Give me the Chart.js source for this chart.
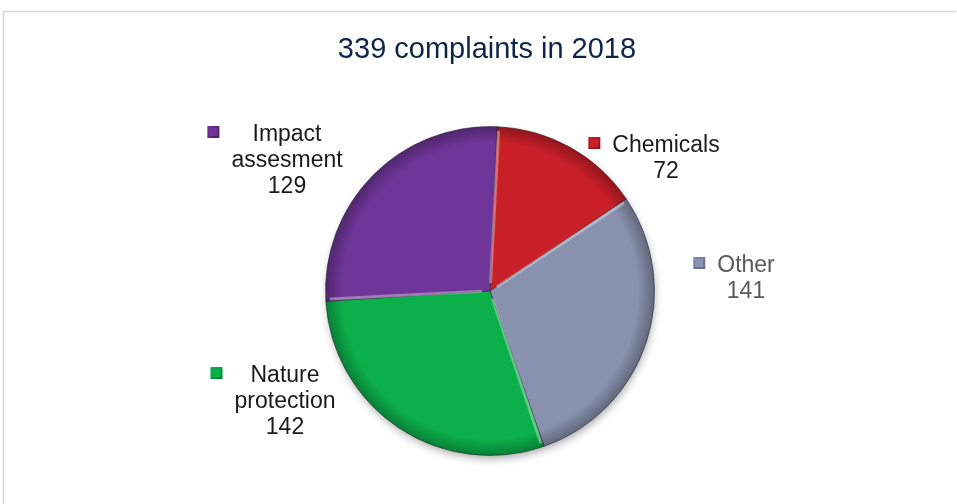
<!DOCTYPE html>
<html><head><meta charset="utf-8">
<script src="https://cdn.jsdelivr.net/npm/chart.js@4/dist/chart.umd.min.js"></script>
<style>html,body{margin:0;padding:0;background:#fff;overflow:hidden}#wrap{width:957px;height:504px;position:relative}</style>
</head><body><div id="wrap"><canvas id="c"></canvas></div>
<script>
const titleText = '339 complaints in 2018';
const categories = ['Chemicals', 'Other', 'Nature protection', 'Impact assesment'];
const labelLines = [['Chemicals'], ['Other'], ['Nature', 'protection'], ['Impact', 'assesment']];
const values = [72, 141, 142, 129];
const sliceColors = ['#C91F28', '#8891AD', '#0CB04A', '#6F3598'];
const rimColors = ['#8E1318', '#5E6682', '#06803A', '#4A2068'];
const labelColors = ['#1a1a1a', '#595959', '#1a1a1a', '#1a1a1a'];

const FONT = '"Liberation Sans", Arial, sans-serif';
// label anchor offsets from pie centre (text centre x, first baseline y)
const labelAnchors = [[176, -139], [256, -19], [-205, 91], [-203, -150]];

const framePlugin = {
  id: 'frame',
  beforeDraw(chart) {
    const ctx = chart.ctx;
    ctx.save();
    ctx.fillStyle = '#fff';
    ctx.fillRect(0, 0, chart.width, chart.height);
    ctx.strokeStyle = '#d6d6d6';
    ctx.lineWidth = 1.5;
    ctx.beginPath();
    ctx.moveTo(3.5, chart.height);
    ctx.lineTo(3.5, 11.5);
    ctx.lineTo(956, 11.5);
    ctx.stroke();
    ctx.fillStyle = '#0E2548';
    ctx.font = '29px ' + FONT;
    ctx.textAlign = 'center';
    ctx.textBaseline = 'alphabetic';
    ctx.fillText(titleText, 487, 58);
    ctx.restore();
  }
};

const shadePlugin = {
  id: 'shade',
  beforeDatasetsDraw(chart) {
    const a = chart.getDatasetMeta(0).data[0];
    const ctx = chart.ctx;
    ctx.save();
    ctx.shadowColor = 'rgba(0,0,0,0.35)';
    ctx.shadowBlur = 8;
    ctx.shadowOffsetY = 4;
    ctx.shadowOffsetX = 1;
    ctx.fillStyle = '#999';
    ctx.beginPath();
    ctx.arc(a.x, a.y, a.outerRadius - 1, 0, Math.PI * 2);
    ctx.fill();
    ctx.restore();
  },
  afterDatasetsDraw(chart) {
    const arcs = chart.getDatasetMeta(0).data;
    const ctx = chart.ctx;
    const a = arcs[0];
    ctx.save();
    const g = ctx.createRadialGradient(a.x, a.y, 0, a.x, a.y, a.outerRadius);
    g.addColorStop(0, 'rgba(0,0,0,0)');
    g.addColorStop(0.9, 'rgba(0,0,0,0)');
    g.addColorStop(1, 'rgba(0,0,0,0.28)');
    ctx.fillStyle = g;
    ctx.beginPath();
    ctx.arc(a.x, a.y, a.outerRadius, 0, Math.PI * 2);
    ctx.fill();
    // light bevel along slice start edges
    arcs.forEach((arc) => {
      const ang = arc.startAngle;
      ctx.strokeStyle = 'rgba(255,255,255,0.35)';
      ctx.lineWidth = 3;
      ctx.beginPath();
      ctx.moveTo(arc.x + Math.cos(ang + 0.03) * 8, arc.y + Math.sin(ang + 0.03) * 8);
      ctx.lineTo(arc.x + Math.cos(ang + 0.012) * (arc.outerRadius - 4), arc.y + Math.sin(ang + 0.012) * (arc.outerRadius - 4));
      ctx.stroke();
    });
    ctx.restore();
  }
};

const labelPlugin = {
  id: 'sliceLabels',
  afterDraw(chart) {
    const arcs = chart.getDatasetMeta(0).data;
    const cx = arcs[0].x, cy = arcs[0].y;
    const ctx = chart.ctx;
    ctx.save();
    ctx.font = '23px ' + FONT;
    ctx.textAlign = 'center';
    ctx.textBaseline = 'alphabetic';
    const lh = 26;
    labelLines.forEach((lines, i) => {
      const all = lines.concat([String(values[i])]);
      const x = cx + labelAnchors[i][0];
      const y = cy + labelAnchors[i][1];
      const w = Math.max(...all.map(t => ctx.measureText(t).width));
      ctx.fillStyle = labelColors[i];
      all.forEach((t, k) => ctx.fillText(t, x, y + k * lh));
      // legend key
      const mx = x - w / 2 - 18, my = y - 9, s = 12;
      const kg = ctx.createLinearGradient(mx - s / 2, my - s / 2, mx + s / 2, my + s / 2);
      kg.addColorStop(0, sliceColors[i]);
      kg.addColorStop(1, rimColors[i]);
      ctx.fillStyle = kg;
      ctx.fillRect(mx - s / 2, my - s / 2, s, s);
      ctx.fillStyle = sliceColors[i];
      ctx.fillRect(mx - s / 2 + 2, my - s / 2 + 2, s - 4, s - 4);
    });
    ctx.restore();
  }
};

new Chart(document.getElementById('c'), {
  type: 'pie',
  data: {
    labels: categories,
    datasets: [{
      data: values,
      backgroundColor: sliceColors,
      borderColor: 'rgba(50,40,60,0.55)',
      borderWidth: 1
    }]
  },
  options: {
    responsive: true,
    maintainAspectRatio: false,
    animation: false,
    rotation: 2.4,
    layout: { padding: { top: 126, bottom: 48, left: 325, right: 302 } },
    plugins: { legend: { display: false }, tooltip: { enabled: false }, title: { display: false } }
  },
  plugins: [framePlugin, shadePlugin, labelPlugin]
});
</script>
</body></html>
